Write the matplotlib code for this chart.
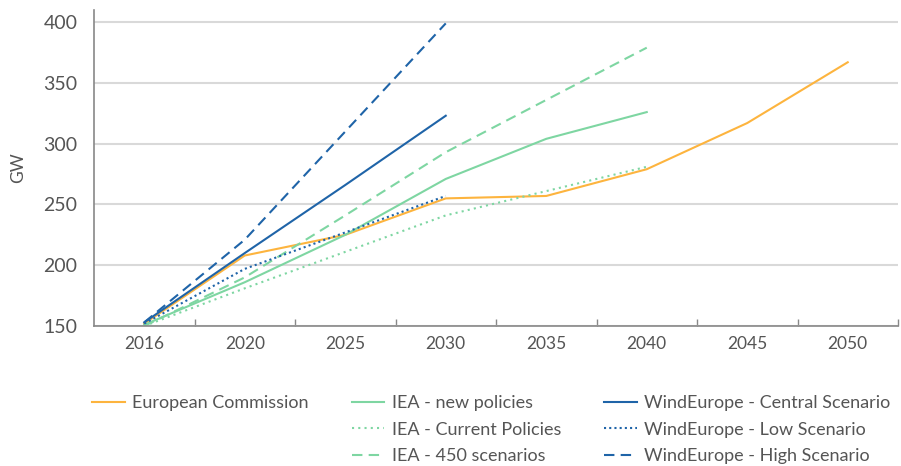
import numpy as np
import matplotlib.pyplot as plt
from matplotlib.lines import Line2D

years = ["2016", "2020", "2025", "2030", "2035", "2040", "2045", "2050"]

# GW (series stop where the source stops)
european_commission = [152, 208, 225, 255, 257, 279, 317, 367]
iea_new_policies = [151, 186, 225, 271, 304, 326]
iea_current_policies = [150, 181, 211, 241, 261, 281]
iea_450 = [150, 190, 241, 293, 336, 379]
we_central = [153, 210, 266, 323]
we_low = [152, 197, 227, 257]
we_high = [153, 221, 310, 399]

orange = "#FDB43E"
green = "#7ED6A2"
blue = "#1F64A8"
text_col = "#555555"

plt.rcParams["font.family"] = ["Lato", "DejaVu Sans"]

fig = plt.figure(figsize=(9.01, 4.66), dpi=100)
ax = fig.add_axes([94 / 901, 1 - 326 / 466, (898 - 94) / 901, (326 - 10) / 466])

x = np.arange(len(years))
lw = 1.5
ax.plot(x[:len(european_commission)], european_commission, color=orange, lw=lw, label="European Commission")
ax.plot(x[:len(iea_new_policies)], iea_new_policies, color=green, lw=lw, label="IEA - new policies")
ax.plot(x[:len(iea_current_policies)], iea_current_policies, color=green, lw=lw, ls=(0, (1, 2)),
        label="IEA - Current Policies")
ax.plot(x[:len(iea_450)], iea_450, color=green, lw=lw, ls=(0, (5, 3)), label="IEA - 450 scenarios")
ax.plot(x[:len(we_central)], we_central, color=blue, lw=lw, label="WindEurope - Central Scenario")
ax.plot(x[:len(we_low)], we_low, color=blue, lw=lw, ls=(0, (1, 1.5)), label="WindEurope - Low Scenario")
ax.plot(x[:len(we_high)], we_high, color=blue, lw=lw, ls=(0, (5, 3)), label="WindEurope - High Scenario")

ax.set_xlim(-0.5, len(years) - 0.5)
ax.set_ylim(150, 410)
ax.set_yticks([150, 200, 250, 300, 350, 400])
ax.set_xticks(x)
ax.set_xticklabels(years)
ax.set_xticks(np.arange(0.5, len(years), 1), minor=True)
ax.tick_params(axis="x", which="major", length=0, pad=7, labelsize=12.5, colors=text_col)
ax.tick_params(axis="x", which="minor", direction="in", length=5, width=1, color="#888888")
ax.tick_params(axis="y", length=0, pad=12, labelsize=14, colors=text_col)
ax.set_ylabel("GW", fontsize=12.5, color=text_col, labelpad=12)

ax.grid(axis="y", color="#d9d9d9", lw=1.5)
ax.set_axisbelow(True)
for s in ["top", "right"]:
    ax.spines[s].set_visible(False)
for s in ["left", "bottom"]:
    ax.spines[s].set_color("#888888")
    ax.spines[s].set_linewidth(1.2)

handles, labels = ax.get_legend_handles_labels()
blank = Line2D([], [], color="none")
handles = [handles[0], blank, blank] + handles[1:]
labels = [labels[0], "", ""] + labels[1:]
fig.legend(handles, labels, ncol=3, loc="upper left", bbox_to_anchor=(76 / 901, 1 - 379 / 466),
           frameon=False, fontsize=13, handlelength=1.8, handletextpad=0.4, columnspacing=2.4,
           labelspacing=0.58, labelcolor=text_col)

fig.savefig("out.png", dpi=100)
